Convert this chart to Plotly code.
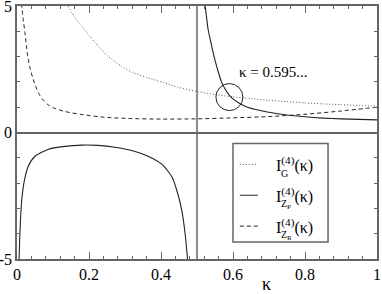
import plotly.graph_objects as go

# ---- data ----
kappa_G = [0.142, 0.16, 0.18, 0.2, 0.217, 0.25, 0.29, 0.32, 0.36, 0.406, 0.45, 0.5,
           0.55, 0.6, 0.65, 0.7, 0.75, 0.8, 0.85, 0.9, 0.95, 1.0]
I_G = [5.0, 4.55, 4.2, 3.85, 3.55, 3.05, 2.62, 2.38, 2.18, 1.98, 1.78, 1.62,
       1.5, 1.41, 1.34, 1.27, 1.22, 1.17, 1.13, 1.1, 1.07, 1.05]

kappa_ZP_neg = [0.0055, 0.008, 0.013, 0.02, 0.031, 0.05, 0.086, 0.133, 0.18, 0.225,
                0.272, 0.319, 0.364, 0.403, 0.431, 0.447, 0.458, 0.467, 0.475]
I_ZP_neg = [-5.2, -4.0, -2.7, -1.93, -1.34, -0.94, -0.67, -0.55, -0.5, -0.51,
            -0.58, -0.71, -0.94, -1.26, -1.77, -2.44, -3.1, -4.0, -5.2]

kappa_ZP_pos = [0.521, 0.527, 0.531, 0.538, 0.545, 0.552, 0.559, 0.568, 0.578, 0.59,
                0.6, 0.62, 0.64, 0.66, 0.68, 0.7, 0.75, 0.8, 0.85, 0.9, 0.95, 1.0]
I_ZP_pos = [5.2, 4.5, 4.06, 3.6, 3.15, 2.75, 2.4, 2.0, 1.72, 1.47,
            1.33, 1.14, 1.0, 0.92, 0.86, 0.8, 0.69, 0.62, 0.57, 0.54, 0.52, 0.5]

kappa_ZR = [0.0125, 0.017, 0.022, 0.026, 0.03, 0.037, 0.045, 0.055, 0.064, 0.075, 0.086,
            0.1, 0.133, 0.18, 0.244, 0.32, 0.4, 0.5, 0.6, 0.7, 0.8, 0.9, 1.0]
I_ZR = [5.1, 4.5, 3.95, 3.45, 3.0, 2.5, 2.1, 1.72, 1.45, 1.25, 1.1,
        0.98, 0.83, 0.71, 0.6, 0.55, 0.53, 0.54, 0.58, 0.63, 0.72, 0.85, 1.0]

x_tick_vals = [0, 0.2, 0.4, 0.6, 0.8, 1.0]
x_tick_text = ["0", "0.2", "0.4", "0.6", "0.8", "1"]
y_tick_vals = [-5, 0, 5]
y_tick_text = ["-5", "0", "5"]

pole_kappa = 0.5
cross_kappa, cross_I = 0.590, 1.40
cross_label = "κ = 0.595..."

legend_labels = [("I<sup>(4)</sup>(κ)", "G"),
                 ("I<sup>(4)</sup>(κ)", "Z<sub>P</sub>"),
                 ("I<sup>(4)</sup>(κ)", "Z<sub>R</sub>")]
DOT = "1px,2px"
DASH = "4px,3px"
legend_dashes = [DOT, "solid", DASH]

FONT = "Liberation Serif, Times New Roman, Times, serif"
CURVE = "#222222"
FRAME = "#666666"

fig = go.Figure()
fig.add_trace(go.Scatter(x=kappa_G, y=I_G, mode="lines",
                         line=dict(color="#555555", width=1, dash=DOT, shape="spline", smoothing=0.6),
                         showlegend=False))
fig.add_trace(go.Scatter(x=kappa_ZP_neg, y=I_ZP_neg, mode="lines",
                         line=dict(color=CURVE, width=1.1, shape="spline", smoothing=0.6),
                         showlegend=False))
fig.add_trace(go.Scatter(x=kappa_ZP_pos, y=I_ZP_pos, mode="lines",
                         line=dict(color=CURVE, width=1.1, shape="spline", smoothing=0.6),
                         showlegend=False))
fig.add_trace(go.Scatter(x=kappa_ZR, y=I_ZR, mode="lines",
                         line=dict(color=CURVE, width=1, dash=DASH, shape="spline", smoothing=0.6),
                         showlegend=False))

shapes = []
shapes.append(dict(type="line", xref="x", yref="paper", x0=pole_kappa, x1=pole_kappa, y0=0, y1=1,
                   line=dict(color=FRAME, width=1.5), layer="below"))
shapes.append(dict(type="circle", xref="x", yref="y", xsizemode="pixel", ysizemode="pixel",
                   xanchor=cross_kappa, yanchor=cross_I, x0=-13.5, x1=13.5, y0=-13.5, y1=13.5,
                   line=dict(color=CURVE, width=1)))
shapes.append(dict(type="rect", xref="x", yref="y", x0=0.6, x1=0.864, y0=-4.33, y1=-0.43,
                   line=dict(color=FRAME, width=1.5), fillcolor="white"))

annotations = []
entry_y = [-1.26, -2.48, -3.70]
for (main, sub), dash, yv in zip(legend_labels, legend_dashes, entry_y):
    shapes.append(dict(type="line", xref="x", yref="y", x0=0.619, x1=0.669, y0=yv, y1=yv,
                       line=dict(color="#555555" if dash == DOT else CURVE, width=1, dash=dash)))
    annotations.append(dict(x=0.713, y=yv, xref="x", yref="y", text=main, showarrow=False,
                            xanchor="left", yanchor="middle",
                            font=dict(family=FONT, size=16, color="black")))
    annotations.append(dict(x=0.727, y=yv, xref="x", yref="y", text=sub, showarrow=False,
                            xanchor="left", yanchor="middle", yshift=-9,
                            font=dict(family=FONT, size=10, color="black")))

annotations.append(dict(x=0.611, y=2.4, xref="x", yref="y", text=cross_label, showarrow=False,
                        xanchor="left", yanchor="middle", font=dict(family=FONT, size=15, color="black")))
annotations.append(dict(x=0.694, y=-0.097, xref="x", yref="paper", text="κ", showarrow=False,
                        xanchor="center", yanchor="middle", font=dict(family=FONT, size=18, color="black")))

axis_common = dict(showgrid=False, showline=True, linecolor=FRAME, linewidth=1.5, mirror="ticks",
                   ticks="inside", ticklen=7, tickcolor=FRAME, tickwidth=1, automargin=False,
                   ticklabeloverflow="allow",
                   tickfont=dict(family=FONT, size=16, color="black"))

fig.update_layout(
    width=382, height=294,
    margin=dict(l=17, r=5, t=6, b=35),
    paper_bgcolor="white", plot_bgcolor="white",
    font=dict(family=FONT),
    shapes=shapes, annotations=annotations,
    xaxis=dict(range=[0, 1], tickvals=x_tick_vals, ticktext=x_tick_text, zeroline=False,
               minor=dict(dtick=0.04, tick0=0, ticks="inside", ticklen=3.5, tickcolor=FRAME, tickwidth=1),
               **axis_common),
    yaxis=dict(range=[-5, 5], tickvals=y_tick_vals, ticktext=y_tick_text,
               zeroline=True, zerolinecolor=FRAME, zerolinewidth=1.5,
               minor=dict(dtick=1, tick0=0, ticks="inside", ticklen=3.5, tickcolor=FRAME, tickwidth=1),
               **axis_common),
)

fig.write_html("out.html", config={"displayModeBar": False},
               post_script="document.body.style.margin='0';document.body.style.padding='0';")
